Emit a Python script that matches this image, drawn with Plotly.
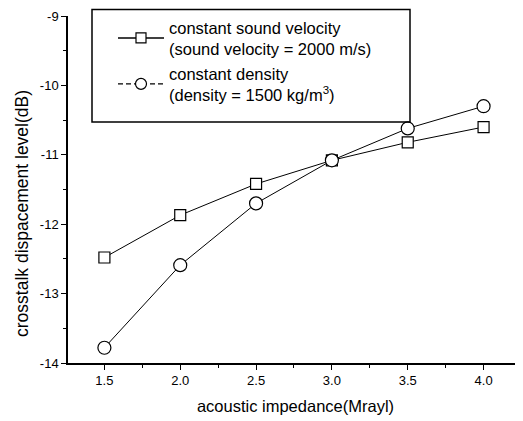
import plotly.graph_objects as go

impedance = [1.5, 2.0, 2.5, 3.0, 3.5, 4.0]
const_velocity = [-12.48, -11.87, -11.42, -11.08, -10.82, -10.60]
const_density = [-13.78, -12.59, -11.70, -11.08, -10.62, -10.30]

x_ticks = [1.5, 2.0, 2.5, 3.0, 3.5, 4.0]
x_ticktext = ["1.5", "2.0", "2.5", "3.0", "3.5", "4.0"]
y_ticks = [-14, -13, -12, -11, -10, -9]
y_ticktext = ["-14", "-13", "-12", "-11", "-10", "-9"]

name_velocity = "constant sound velocity<br>(sound velocity = 2000 m/s)"
name_density = "constant density<br>(density = 1500 kg/m<sup>3</sup>)"
x_title = "acoustic impedance(Mrayl)"
y_title = "crosstalk dispacement level(dB)"

sq_marker = dict(symbol="square", size=11, color="white", line=dict(width=1.2, color="black"))
ci_marker = dict(symbol="circle", size=13, color="white", line=dict(width=1.2, color="black"))

fig = go.Figure()
fig.add_trace(go.Scatter(
    x=impedance, y=const_velocity, mode="lines+markers", showlegend=False,
    line=dict(color="black", width=1), marker=sq_marker,
))
fig.add_trace(go.Scatter(
    x=impedance, y=const_density, mode="lines+markers", showlegend=False,
    line=dict(color="black", width=1), marker=ci_marker,
))
# legend entries (density legend line drawn dashed as in the reference)
fig.add_trace(go.Scatter(
    x=[None], y=[None], mode="lines+markers", name=name_velocity,
    line=dict(color="black", width=1.5),
    marker=dict(symbol="square", size=10, color="white", line=dict(width=1.2, color="black")),
))
fig.add_trace(go.Scatter(
    x=[None], y=[None], mode="lines+markers", name=name_density,
    line=dict(color="black", width=1.2, dash="5px,3px"),
    marker=dict(symbol="circle", size=11, color="white", line=dict(width=1.2, color="black")),
))

font = "Liberation Sans, Arial, sans-serif"
W, H = 515, 413
PL, PT, PW, PH = 60, 8, 455, 347
fig.update_layout(
    width=W, height=H,
    margin=dict(l=PL, r=W - PL - PW, t=PT, b=H - PT - PH),
    plot_bgcolor="white", paper_bgcolor="white",
    font=dict(family=font, color="black", size=13),
    showlegend=True,
    legend=dict(
        x=(105 - PL) / PW, y=(PH + PT - 2) / PH, xanchor="left", yanchor="top",
        borderwidth=0, bgcolor="rgba(0,0,0,0)",
        font=dict(size=16.5, family=font), itemwidth=46,
        tracegroupgap=0,
    ),
    shapes=[dict(
        type="rect", xref="paper", yref="paper",
        x0=(92 - 68) / PW, x1=(410 - 68) / PW,
        y0=(363 - 122) / PH, y1=(363 - 9.5) / PH,
        line=dict(color="black", width=1.5), fillcolor="rgba(0,0,0,0)", layer="above",
    )],
    annotations=[dict(
        text=y_title, textangle=-90, showarrow=False,
        xref="paper", yref="paper", x=(14 - PL) / PW, y=(PT + PH - 206) / PH,
        xanchor="center", yanchor="middle", font=dict(size=17.5, family=font),
    )],
    xaxis=dict(
        range=[1.26, 4.26], tickvals=x_ticks, ticktext=x_ticktext,
        ticks="outside", ticklen=5, tickwidth=1.2, tickcolor="black",
        showline=True, linecolor="black", linewidth=1.5, showgrid=False, zeroline=False,
        minor=dict(tickvals=[1.25, 1.75, 2.25, 2.75, 3.25, 3.75, 4.25], ticks="outside", ticklen=3, tickcolor="black"),
        title=dict(text=x_title, font=dict(size=16.5), standoff=13),
        tickfont=dict(size=13),
    ),
    yaxis=dict(
        range=[-14, -9], tickvals=y_ticks, ticktext=y_ticktext,
        ticks="outside", ticklen=5, tickwidth=1.2, tickcolor="black",
        showline=True, linecolor="black", linewidth=1.5, showgrid=False, zeroline=False,
        minor=dict(tickvals=[-13.5, -12.5, -11.5, -10.5, -9.5], ticks="outside", ticklen=3, tickcolor="black"),
        tickfont=dict(size=13),
    ),
)

fig.write_html("out.html")
